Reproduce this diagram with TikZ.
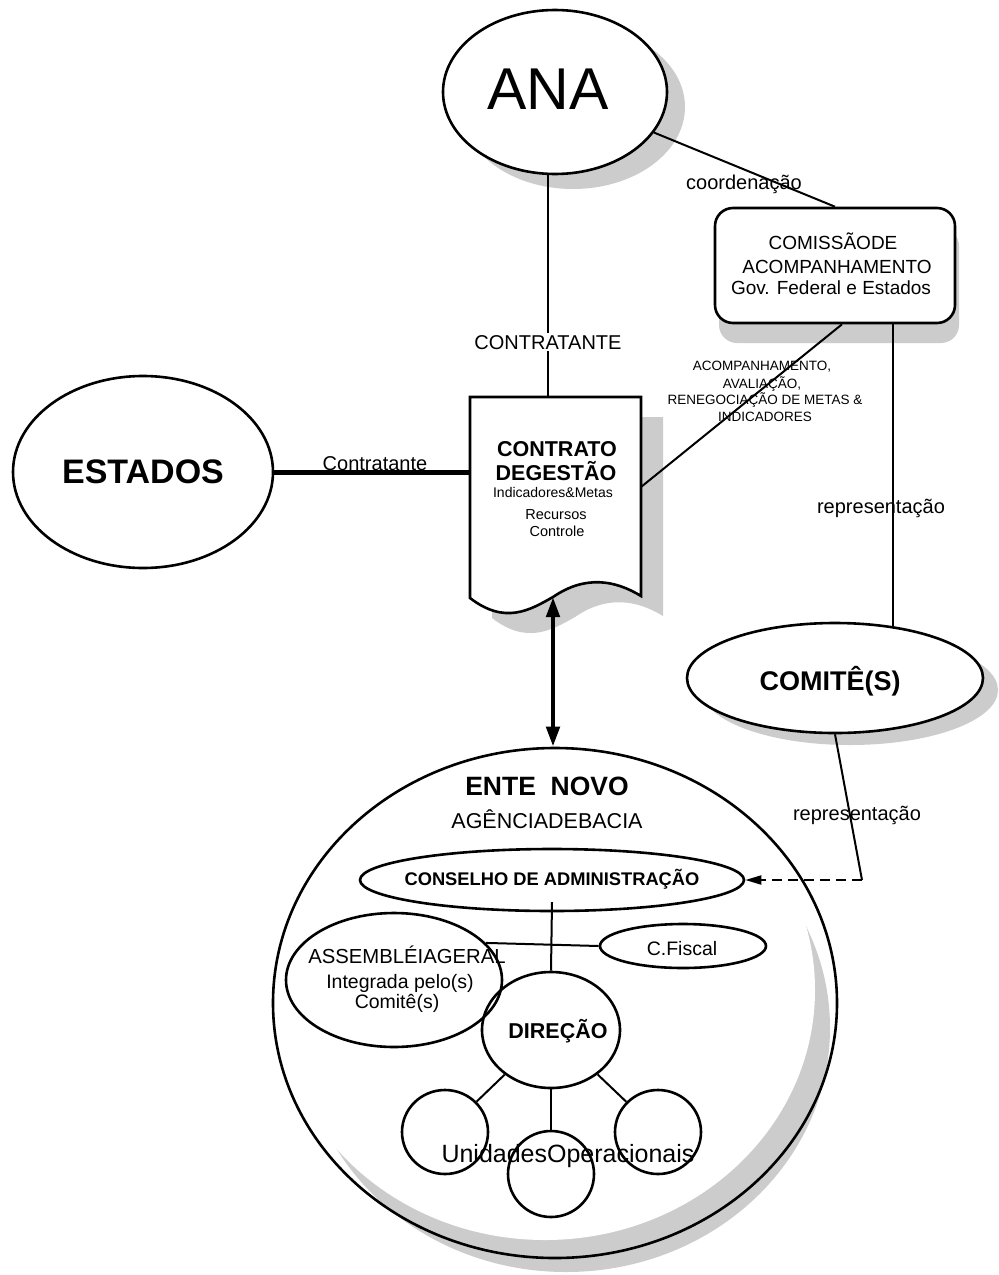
\documentclass[tikz,border=0pt]{standalone}
\usepackage{fontspec}
\setmainfont{Liberation Sans}
\usetikzlibrary{shapes.geometric,arrows.meta,shadows}
\definecolor{shadowgray}{gray}{0.8}
\begin{document}
\begin{tikzpicture}[x=1pt,y=-1pt,
  outl/.style={draw=black, line width=2.6pt},
  ell/.style={ellipse, outl, fill=white, inner sep=0pt},
  conn/.style={draw=black, line width=2pt},
  txt/.style={inner sep=0pt, anchor=base},
  shd/.style 2 args={drop shadow={shadow xshift=#1pt, shadow yshift=-#2pt, opacity=1, fill=shadowgray}},
  bigarrow/.style={line width=4.5pt, {Triangle[length=20pt,width=13pt]}-{Triangle[length=20pt,width=13pt]}},
  dasharrow/.style={line width=2pt, dash pattern=on 10pt off 6pt, -{Triangle[length=16pt,width=9pt]}}
]
\useasboundingbox (0,0) rectangle (999,1275);
\fill[white] (0,0) rectangle (999,1275);

% ---- Ente Novo shadow crescent and outline
\fill[shadowgray] (566,1028) ellipse [x radius=264, y radius=244];
\fill[white] (545,990) ellipse [x radius=270, y radius=250];
\node[ellipse, outl, minimum width=564, minimum height=510, inner sep=0pt] (ente) at (555,1003) {};

% ---- ANA
\node[ell, shd={18}{15}, minimum width=224, minimum height=164] (ana) at (555,92) {};
\node[txt, font=\fontsize{59}{62}\selectfont] (anat) at (548,109) {ANA};

% ---- ESTADOS
\node[ell, minimum width=260, minimum height=192] (est) at (143,472) {};
\node[txt, font=\fontsize{34}{38}\selectfont\bfseries] (estt) at (143,483) {ESTADOS};

% ---- Comissao
\node[rectangle, rounded corners=18pt, outl, fill=white, shd={4}{20}, minimum width=240, minimum height=115, inner sep=0pt] (com) at (835,265.5) {};
\node[txt, font=\fontsize{19}{21}\selectfont] (com1) at (833,249) {COMISSÃODE};
\node[txt, font=\fontsize{19}{21}\selectfont] (com2) at (837,273) {ACOMPANHAMENTO};
\node[txt, font=\fontsize{19}{21}\selectfont] (com3) at (831,294) {Gov. Federal e Estados};

% ---- Contrato de gestao (document shape)
\coordinate (ctT) at (548,397);
\coordinate (ctL) at (470,472);
\coordinate (ctR) at (641,487);
\coordinate (ctB) at (553,597);
\fill[shadowgray, shift={(22,20)}] (470,397) -- (641,397) -- (641,596)
  .. controls (615,580) and (585,575) .. (553,597)
  .. controls (530,610) and (505,625) .. (470,598) -- cycle;
\draw[outl, fill=white] (470,397) -- (641,397) -- (641,596)
  .. controls (615,580) and (585,575) .. (553,597)
  .. controls (530,610) and (505,625) .. (470,598) -- cycle;
\node[txt, font=\fontsize{21.5}{24}\selectfont\bfseries] (ct1) at (557,456) {CONTRATO};
\node[txt, font=\fontsize{21.5}{24}\selectfont\bfseries] (ct2) at (556,480) {DEGESTÃO};
\node[txt, font=\fontsize{14}{16}\selectfont] (ct3) at (553,497) {Indicadores\&Metas};
\node[txt, font=\fontsize{14.5}{16}\selectfont] (ct4) at (556,519) {Recursos};
\node[txt, font=\fontsize{14.5}{16}\selectfont] (ct5) at (557,536) {Controle};

% ---- Comite(s)
\node[ell, shd={15}{12}, minimum width=296, minimum height=110] (comite) at (835,678) {};
\node[txt, font=\fontsize{27}{30}\selectfont\bfseries] (comitet) at (830,690) {COMITÊ(S)};

% ---- inside Ente Novo
\node[txt, font=\fontsize{26.5}{29}\selectfont\bfseries] (entet) at (547,795) {ENTE\ \ NOVO};
\node[txt, font=\fontsize{21.5}{24}\selectfont] (agt) at (547,828) {AGÊNCIADEBACIA};

\node[ell, fill=none, minimum width=384, minimum height=62] (cons) at (552,880) {};
\node[txt, font=\fontsize{18.3}{21}\selectfont\bfseries] (const) at (552,885) {CONSELHO DE ADMINISTRAÇÃO};

\node[ell, fill=none, minimum width=166, minimum height=44] (cf) at (683,946) {};
\node[txt, font=\fontsize{19.5}{22}\selectfont] (cft) at (682,955) {C.Fiscal};

\node[ell, fill=none, minimum width=216, minimum height=134] (ass) at (394,980) {};
\node[txt, font=\fontsize{20.3}{23}\selectfont] (ass1) at (407,963) {ASSEMBLÉIAGERAL};
\node[txt, font=\fontsize{19.5}{22}\selectfont] (ass2) at (400,988) {Integrada pelo(s)};
\node[txt, font=\fontsize{19.5}{22}\selectfont] (ass3) at (397,1008) {Comitê(s)};

\node[ell, fill=none, minimum width=138, minimum height=116] (dir) at (551,1030) {};
\node[txt, font=\fontsize{21.5}{24}\selectfont\bfseries] (dirt) at (558,1038) {DIREÇÃO};

\node[ell, fill=none, minimum width=86, minimum height=84] (u1) at (445,1132) {};
\node[ell, fill=none, minimum width=86, minimum height=86] (u2) at (551,1174) {};
\node[ell, fill=none, minimum width=86, minimum height=84] (u3) at (658,1132) {};
\node[txt, font=\fontsize{25}{28}\selectfont] (unt) at (568,1162) {UnidadesOperacionais};

% ---- connectors
\draw[conn] (ana.south -| ctT) -- (ctT);
\node[txt, fill=white, inner sep=2pt, font=\fontsize{20}{22}\selectfont] (lbl1) at (548,349) {CONTRATANTE};

\draw[conn] (ana) -- (com.north);
\node[txt, font=\fontsize{20}{22}\selectfont] (lbl2) at (744,189) {coordenação};

\draw[conn] ([xshift=7pt]com.south) -- (ctR);
\node[txt, font=\fontsize{13.5}{15}\selectfont] (lbl3a) at (762,370) {ACOMPANHAMENTO,};
\node[txt, font=\fontsize{13.5}{15}\selectfont] (lbl3b) at (762,388) {AVALIAÇÃO,};
\node[txt, font=\fontsize{13.5}{15}\selectfont] (lbl3c) at (765,404) {RENEGOCIAÇÃO DE METAS \&};
\node[txt, font=\fontsize{13.5}{15}\selectfont] (lbl3d) at (765,421) {INDICADORES};

\coordinate (cX) at (893,0);
\coordinate (cmT) at (893,628);
\draw[conn] (com.south -| cX) -- (cmT);
\node[txt, font=\fontsize{20}{22}\selectfont] (lbl4) at (881,513) {representação};

\draw[line width=5pt] (est) -- (ctL);
\node[txt, font=\fontsize{20}{22}\selectfont] (lbl5) at (375,470) {Contratante};

\draw[bigarrow] (ctB) -- (ctB |- ente.north);

\coordinate (bend) at (862,880);
\draw[conn] (comite.south) -- (bend);
\draw[dasharrow] (bend) -- (cons.east);
\node[txt, font=\fontsize{20}{22}\selectfont] (lbl6) at (857,820) {representação};

\draw[conn] ([yshift=-22pt]cons.center) -- (dir.north);
\draw[conn] (ass.22) -- (cf.west);
\draw[conn] (dir) -- (u1);
\draw[conn] (dir) -- (u2);
\draw[conn] (dir) -- (u3);
\end{tikzpicture}
\end{document}
